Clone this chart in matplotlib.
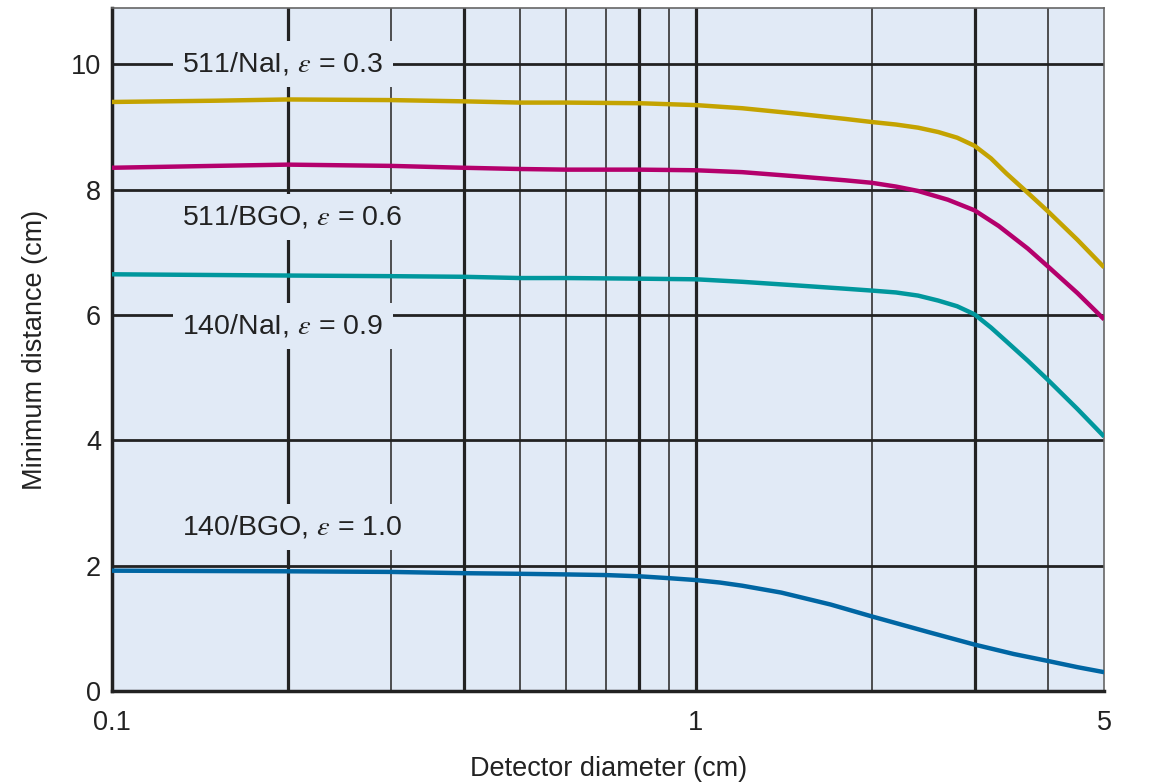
import matplotlib
matplotlib.use("Agg")
import matplotlib.pyplot as plt

plt.rcParams['font.family'] = ['Liberation Sans', 'DejaVu Sans']
plt.rcParams['mathtext.fontset'] = 'stix'

# Data
x_nai511 = [0.1, 0.15, 0.2, 0.3, 0.4, 0.5, 0.6, 0.8, 1.0, 1.2, 1.5, 1.8, 2.0, 2.2, 2.4, 2.6, 2.8, 3.0, 3.2, 3.4, 3.7, 4.0, 4.5, 5.0]
y_nai511 = [9.40, 9.42, 9.44, 9.43, 9.41, 9.39, 9.39, 9.38, 9.35, 9.30, 9.21, 9.13, 9.08, 9.04, 8.99, 8.92, 8.83, 8.70, 8.50, 8.26, 7.95, 7.66, 7.20, 6.76]

x_bgo511 = [0.1, 0.15, 0.2, 0.3, 0.4, 0.5, 0.6, 0.8, 1.0, 1.2, 1.5, 1.8, 2.0, 2.2, 2.4, 2.7, 3.0, 3.3, 3.7, 4.0, 4.5, 5.0]
y_bgo511 = [8.35, 8.38, 8.40, 8.38, 8.35, 8.33, 8.32, 8.32, 8.31, 8.28, 8.21, 8.15, 8.11, 8.05, 7.98, 7.84, 7.67, 7.42, 7.06, 6.78, 6.35, 5.93]

x_nai140 = [0.1, 0.2, 0.3, 0.4, 0.5, 0.6, 0.8, 1.0, 1.2, 1.5, 1.8, 2.0, 2.2, 2.4, 2.6, 2.8, 3.0, 3.2, 3.4, 3.7, 4.0, 4.5, 5.0]
y_nai140 = [6.65, 6.63, 6.62, 6.61, 6.59, 6.59, 6.58, 6.57, 6.53, 6.47, 6.42, 6.39, 6.36, 6.31, 6.23, 6.14, 6.01, 5.80, 5.58, 5.27, 4.97, 4.50, 4.06]

x_bgo140 = [0.1, 0.2, 0.3, 0.4, 0.5, 0.6, 0.7, 0.8, 0.9, 1.0, 1.1, 1.2, 1.4, 1.7, 2.0, 2.5, 3.0, 3.5, 4.0, 4.5, 5.0]
y_bgo140 = [1.92, 1.91, 1.90, 1.88, 1.87, 1.86, 1.85, 1.83, 1.80, 1.77, 1.73, 1.68, 1.57, 1.38, 1.19, 0.94, 0.74, 0.59, 0.48, 0.38, 0.30]

labels = ["511/NaI, $\\varepsilon$ = 0.3", "511/BGO, $\\varepsilon$ = 0.6",
          "140/NaI, $\\varepsilon$ = 0.9", "140/BGO, $\\varepsilon$ = 1.0"]
label_y = [10.0, 7.57, 5.82, 2.62]
colors = ['#C4A300', '#B4006C', '#00979D', '#0066A3']

x_ticks = [0.1, 1, 5]
x_tick_labels = ['0.1', '1', '5']
y_ticks = [0, 2, 4, 6, 8, 10]
thick_x = [0.2, 0.4, 0.8, 1, 3]
thin_x = [0.3, 0.5, 0.6, 0.7, 0.9, 2, 4]

bg = '#E1EAF6'
fig = plt.figure(figsize=(11.51, 7.82), dpi=100)
ax = fig.add_axes([0.0973, 0.1164, 0.862, 0.8734])
ax.set_facecolor(bg)
ax.set_xscale('log')
ax.set_xlim(0.1, 5)
ax.set_ylim(0, 10.9)

for xv in thick_x:
    ax.axvline(xv, color='#222222', lw=2.3, zorder=1)
for xv in thin_x:
    ax.axvline(xv, color='#333333', lw=1.2, zorder=1)
for yv in y_ticks[1:]:
    ax.axhline(yv, color='#222222', lw=2.0, zorder=1)

for xs, ys, c in [(x_nai511, y_nai511, colors[0]), (x_bgo511, y_bgo511, colors[1]),
                  (x_nai140, y_nai140, colors[2]), (x_bgo140, y_bgo140, colors[3])]:
    ax.plot(xs, ys, color=c, lw=3.2, zorder=3, solid_capstyle='butt', solid_joinstyle='round')

for t, yv in zip(labels, label_y):
    ax.text(0.132, yv, t, fontsize=20.5, color='#222222', ha='left', va='center', zorder=4,
            bbox=dict(boxstyle='square,pad=0.33', fc=bg, ec='none'))

ax.set_xticks(x_ticks)
ax.set_xticklabels(x_tick_labels)
ax.xaxis.set_minor_locator(matplotlib.ticker.NullLocator())
ax.set_yticks(y_ticks)
ax.tick_params(length=0, labelsize=19.5, colors='#222222', pad=8)
ax.tick_params(axis='x', pad=14)

for s in ['left', 'bottom']:
    ax.spines[s].set_color('#222222')
    ax.spines[s].set_linewidth(2.5)
for s in ['top', 'right']:
    ax.spines[s].set_color('#666666')
    ax.spines[s].set_linewidth(1.2)

ax.set_xlabel('Detector diameter (cm)', fontsize=19.5, color='#222222', labelpad=14)
ax.set_ylabel('Minimum distance (cm)', fontsize=19.5, color='#222222', labelpad=16)

fig.savefig('out.png', dpi=100)
